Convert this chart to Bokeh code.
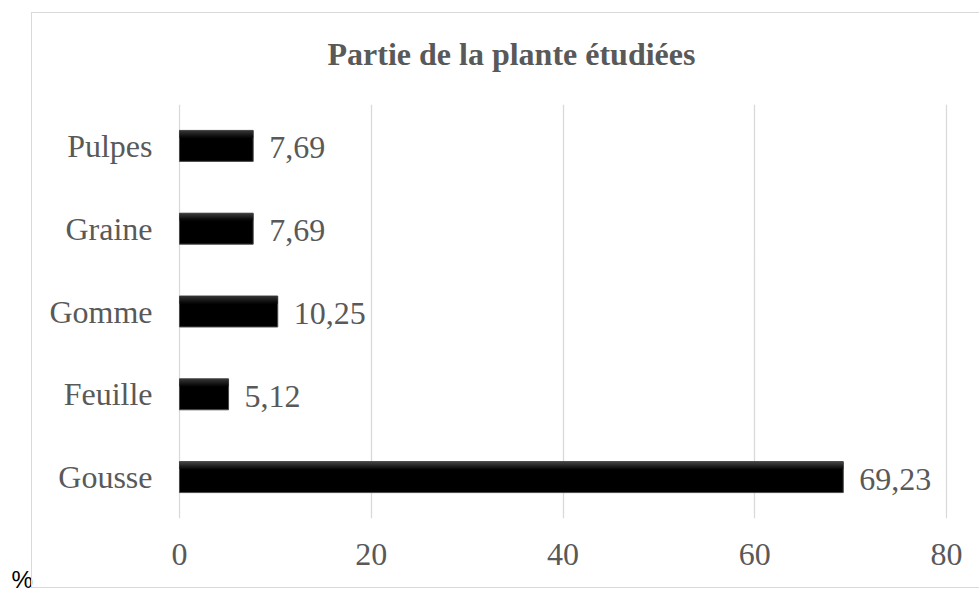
from bokeh.plotting import figure
from bokeh.models import FactorRange, Range1d, FixedTicker, ColumnDataSource, LabelSet, Label, InlineStyleSheet
from bokeh.transform import dodge
from bokeh.embed import file_html
from bokeh.resources import INLINE

categories = ["Gousse", "Feuille", "Gomme", "Graine", "Pulpes"]
values = [69.23, 5.12, 10.25, 7.69, 7.69]
value_labels = ["69,23", "5,12", "10,25", "7,69", "7,69"]
x_ticks = [0, 20, 40, 60, 80]
title_text = "Partie de la plante étudiées"
unit_text = "%"

GRAY = "#595959"
GRID = "#d9d9d9"
SERIF = "Liberation Serif"

p = figure(width=979, height=590, output_backend="svg", toolbar_location=None,
           y_range=FactorRange(factors=categories, range_padding=0),
           x_range=Range1d(-0.1, 80.1),
           min_border_left=178, min_border_right=32, min_border_top=103, min_border_bottom=72)
p.outline_line_color = None
p.background_fill_color = "white"
p.border_fill_color = "white"

# chart-area border (light gray frame around the chart, open on the right edge)
p.stylesheets = [InlineStyleSheet(css="""
:host { position: relative; }
:host::after {
  content: ""; position: absolute; left: 31px; top: 12px; width: 948px; height: 576px;
  box-sizing: border-box; border: 1.5px solid #d9d9d9; border-right: none; pointer-events: none;
}
""")]

p.title.text = title_text
p.title.align = "left"
p.title.text_font = SERIF
p.title.text_font_size = "32px"
p.title.text_font_style = "bold"
p.title.text_color = GRAY
p.title.standoff = 66
p.title.offset = 149

src = ColumnDataSource(dict(cat=categories, val=values, lab=value_labels))

BAR_H = 0.374
p.hbar(y="cat", right="val", left=0, height=BAR_H, source=src,
       fill_color="black", line_color="#4a4a4a", line_width=1)
# smooth top highlight (gradient look)
bands = [(0.176, "#3e3e3e"), (0.164, "#363636"), (0.152, "#2d2d2d"), (0.140, "#242424"),
         (0.128, "#1b1b1b"), (0.116, "#131313"), (0.104, "#0b0b0b")]
for off, col in bands:
    p.hbar(y=dodge("cat", off, range=p.y_range), right="val", left=0, height=0.0125, source=src,
           fill_color=col, line_color=None)

labels = LabelSet(x="val", y="cat", text="lab", source=src, x_offset=16, y_offset=-2,
                  text_font=SERIF, text_font_size="32px", text_color=GRAY,
                  text_baseline="middle", text_align="left")
p.add_layout(labels)

# x axis
p.xaxis.ticker = FixedTicker(ticks=x_ticks)
p.xaxis.axis_line_color = None
p.xaxis.major_tick_line_color = None
p.xaxis.minor_tick_line_color = None
p.xaxis.major_tick_out = 0
p.xaxis.major_label_standoff = 25
p.xaxis.major_label_text_font = SERIF
p.xaxis.major_label_text_font_size = "32px"
p.xaxis.major_label_text_color = GRAY

# y axis
p.yaxis.axis_line_color = None
p.yaxis.major_tick_line_color = None
p.yaxis.minor_tick_line_color = None
p.yaxis.major_tick_out = 0
p.yaxis.major_label_standoff = 26
p.yaxis.major_label_text_font = SERIF
p.yaxis.major_label_text_font_size = "32px"
p.yaxis.major_label_text_color = GRAY

p.xgrid.grid_line_color = GRID
p.xgrid.grid_line_width = 1.3
p.ygrid.grid_line_color = None

pct = Label(x=11, y=579, x_units="canvas", y_units="canvas", text=unit_text,
            text_font="Liberation Sans", text_font_size="24px", text_color="black",
            text_baseline="alphabetic")
p.add_layout(pct, "left")

open("out.html", "w").write(file_html(p, INLINE))
